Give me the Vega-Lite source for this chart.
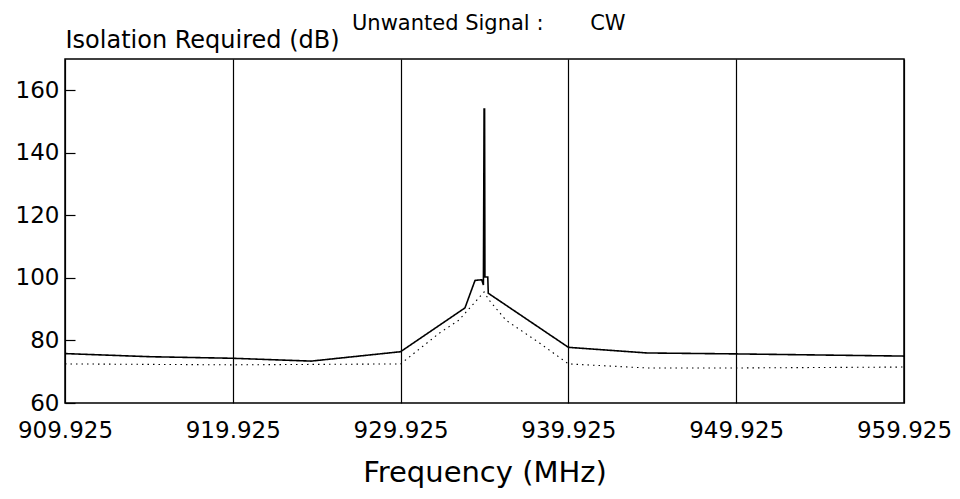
{
  "$schema": "https://vega.github.io/schema/vega-lite/v6.json",
  "autosize": {"type": "none"},
  "width": 839,
  "height": 344,
  "padding": {"left": 65, "top": 59, "right": 56, "bottom": 96},
  "background": "white",
  "config": {
    "view": {"stroke": "black", "strokeWidth": 1.5},
    "font": "DejaVu Sans"
  },
  "title": {
    "text": "Unwanted Signal :\u00a0\u00a0\u00a0\u00a0\u00a0\u00a0\u00a0CW",
    "anchor": "start",
    "frame": "group",
    "font": "DejaVu Sans",
    "fontSize": 21,
    "fontWeight": "normal",
    "color": "black",
    "baseline": "alphabetic",
    "dx": 287,
    "offset": 0,
    "dy": 23
  },
  "data": {
    "values": [
      {"i": 1, "s": "solid", "f": 909.925, "v": 75.8},
      {"i": 2, "s": "solid", "f": 915.0, "v": 74.8},
      {"i": 3, "s": "solid", "f": 919.925, "v": 74.3},
      {"i": 4, "s": "solid", "f": 924.6, "v": 73.4},
      {"i": 5, "s": "solid", "f": 929.925, "v": 76.4},
      {"i": 6, "s": "solid", "f": 933.76, "v": 90.4},
      {"i": 7, "s": "solid", "f": 934.36, "v": 99.2},
      {"i": 8, "s": "solid", "f": 934.76, "v": 99.4},
      {"i": 9, "s": "solid", "f": 934.86, "v": 97.7},
      {"i": 10, "s": "solid", "f": 934.9, "v": 154},
      {"i": 11, "s": "solid", "f": 934.93, "v": 154},
      {"i": 12, "s": "solid", "f": 934.95, "v": 100.3},
      {"i": 13, "s": "solid", "f": 935.12, "v": 100.3},
      {"i": 14, "s": "solid", "f": 935.15, "v": 95.1},
      {"i": 15, "s": "solid", "f": 939.925, "v": 77.8},
      {"i": 16, "s": "solid", "f": 944.6, "v": 76.0},
      {"i": 17, "s": "solid", "f": 949.925, "v": 75.7},
      {"i": 18, "s": "solid", "f": 959.925, "v": 75.0},
      {"i": 1, "s": "dotted", "f": 909.925, "v": 72.5},
      {"i": 2, "s": "dotted", "f": 919.925, "v": 72.2},
      {"i": 3, "s": "dotted", "f": 929.925, "v": 72.5},
      {"i": 4, "s": "dotted", "f": 932.25, "v": 82.4},
      {"i": 5, "s": "dotted", "f": 933.4, "v": 86.5},
      {"i": 6, "s": "dotted", "f": 934.9, "v": 95.5},
      {"i": 7, "s": "dotted", "f": 935.2, "v": 92.9},
      {"i": 8, "s": "dotted", "f": 936.2, "v": 86.5},
      {"i": 9, "s": "dotted", "f": 938.2, "v": 79.2},
      {"i": 10, "s": "dotted", "f": 939.925, "v": 72.5},
      {"i": 11, "s": "dotted", "f": 944.6, "v": 71.2},
      {"i": 12, "s": "dotted", "f": 949.925, "v": 71.2},
      {"i": 13, "s": "dotted", "f": 959.925, "v": 71.5}
    ]
  },
  "mark": {"type": "line", "color": "black", "clip": true},
  "encoding": {
    "x": {
      "field": "f",
      "type": "quantitative",
      "scale": {"domain": [909.925, 959.925], "nice": false, "zero": false},
      "axis": {
        "values": [909.925, 919.925, 929.925, 939.925, 949.925, 959.925],
        "format": ".3f",
        "ticks": false,
        "domain": false,
        "grid": true,
        "gridColor": "black",
        "gridWidth": 1.2,
        "gridOpacity": 1,
        "labelFont": "DejaVu Sans",
        "labelFontSize": 23,
        "labelColor": "black",
        "labelPadding": 16,
        "labelFlush": false,
        "labelOverlap": false,
        "title": "Frequency (MHz)",
        "titleFont": "DejaVu Sans",
        "titleFontSize": 29,
        "titleFontWeight": "normal",
        "titleColor": "black",
        "titlePadding": 16
      }
    },
    "y": {
      "field": "v",
      "type": "quantitative",
      "scale": {"domain": [60, 170], "nice": false, "zero": false},
      "axis": {
        "values": [60, 80, 100, 120, 140, 160],
        "grid": false,
        "domain": false,
        "ticks": true,
        "tickSize": -10,
        "tickColor": "black",
        "tickWidth": 1.2,
        "labelPadding": 16,
        "labelFont": "DejaVu Sans",
        "labelFontSize": 23,
        "labelColor": "black",
        "labelFlush": false,
        "labelOverlap": false,
        "title": "Isolation Required (dB)",
        "titleFont": "DejaVu Sans",
        "titleFontSize": 24,
        "titleFontWeight": "normal",
        "titleColor": "black",
        "titleAngle": 0,
        "titleAlign": "left",
        "titleBaseline": "alphabetic",
        "titleX": 0,
        "titleY": -12
      }
    },
    "order": {"field": "i", "type": "quantitative"},
    "detail": {"field": "s"},
    "strokeDash": {
      "field": "s",
      "type": "nominal",
      "scale": {"domain": ["solid", "dotted"], "range": [[1, 0], [1.5, 4]]},
      "legend": null
    },
    "strokeWidth": {
      "field": "s",
      "type": "nominal",
      "scale": {"domain": ["solid", "dotted"], "range": [1.6, 1.1]},
      "legend": null
    }
  }
}
